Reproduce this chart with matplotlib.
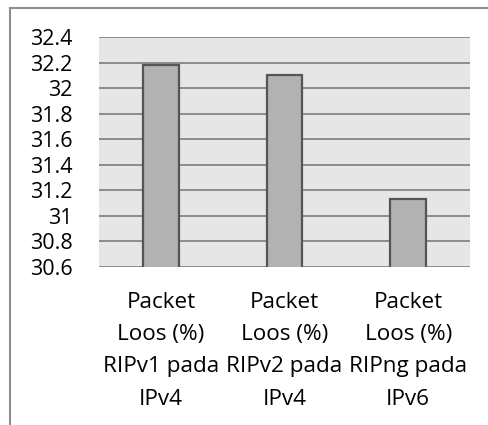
import matplotlib.pyplot as plt
import numpy as np
from matplotlib.lines import Line2D

plt.rcParams['font.family'] = ['Open Sans', 'DejaVu Sans']

categories = ['Packet\nLoos (%)\nRIPv1 pada\nIPv4',
              'Packet\nLoos (%)\nRIPv2 pada\nIPv4',
              'Packet\nLoos (%)\nRIPng pada\nIPv6']
values = [32.18, 32.10, 31.13]
yticks = [30.6, 30.8, 31.0, 31.2, 31.4, 31.6, 31.8, 32.0, 32.2, 32.4]

fig = plt.figure(figsize=(4.88, 4.25), dpi=100)
ax = fig.add_axes([99 / 488, 1 - 267 / 425, 371 / 488, 230 / 425])

ax.set_facecolor('#e6e6e6')
x = np.arange(len(categories))
ax.bar(x, values, width=0.29, bottom=0, color='#b2b2b2', edgecolor='#555555',
       linewidth=1.6, zorder=3)

ax.set_xlim(-0.5, len(categories) - 0.5)
ax.set_ylim(yticks[0], yticks[-1])
ax.set_yticks(yticks)
ax.set_yticklabels([f'{v:g}' for v in yticks])
ax.set_xticks(x)
ax.set_xticklabels(categories)
ax.yaxis.grid(True, color='#8c8c8c', linewidth=1.4, zorder=1)
ax.set_axisbelow(True)
ax.tick_params(axis='both', length=0)
ax.tick_params(axis='y', pad=19, labelsize=15.5)
ax.tick_params(axis='x', pad=18, labelsize=16.2)
for lbl in ax.get_xticklabels():
    lbl.set_linespacing(1.7)
for s in ax.spines.values():
    s.set_visible(False)

# outer chart frame (clipped at right and bottom)
fig.add_artist(Line2D([9.5 / 488, 9.5 / 488], [0, 1 - 7.5 / 425],
                      transform=fig.transFigure, color='#8c8c8c', linewidth=1.5))
fig.add_artist(Line2D([9.5 / 488, 1], [1 - 7.5 / 425, 1 - 7.5 / 425],
                      transform=fig.transFigure, color='#8c8c8c', linewidth=1.5))

fig.savefig('out.png', dpi=100)
